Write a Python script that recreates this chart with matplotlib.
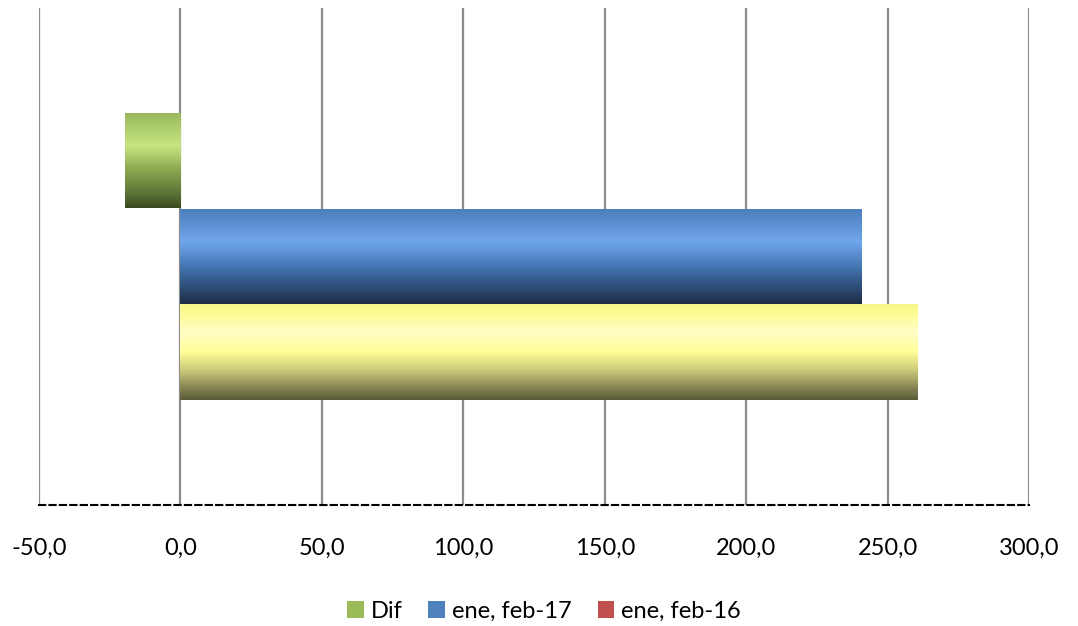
import numpy as np
import matplotlib
matplotlib.use("Agg")
import matplotlib.pyplot as plt
from matplotlib.colors import LinearSegmentedColormap
from matplotlib.patches import Rectangle, Patch

plt.rcParams['font.family'] = ['Lato', 'DejaVu Sans']

# data
series = ['Dif', 'ene, feb-17', 'ene, feb-16']
values = [-19.5, 240.8, 260.7]
legend_colors = ['#9bbb59', '#4f81bd', '#c0504d']
xticks = [-50, 0, 50, 100, 150, 200, 250, 300]

# gradient stops (top -> bottom) for each bar
gradients = [
    [(0.0, '#97b75a'), (0.35, '#c6e581'), (0.6, '#8ba851'), (0.85, '#5c7336'), (1.0, '#3a4920')],
    [(0.0, '#4a7dba'), (0.35, '#70a6ec'), (0.6, '#4678b5'), (0.85, '#2b4971'), (1.0, '#1d2c45')],
    [(0.0, '#f7f488'), (0.12, '#fefb98'), (0.3, '#fffdc6'), (0.5, '#ffff99'), (0.7, '#c9c878'),
     (0.85, '#8e8d58'), (1.0, '#5a5a3a')],
]

fig = plt.figure(figsize=(10.78, 6.26), dpi=100)
ax = fig.add_axes([39/1078, (626-505)/626, 990/1078, 497/626])

ax.set_xlim(-50, 300)
ax.set_ylim(0, 1)
bar_h = 96/497
y_center = 0.5
# top to bottom: Dif, feb-17, feb-16
offsets = [1, 0, -1]

grad = np.linspace(0, 1, 256).reshape(-1, 1)
for v, off, stops in zip(values, offsets, gradients):
    yc = y_center + off*bar_h
    y0, y1 = yc - bar_h/2, yc + bar_h/2
    x0, x1 = min(0, v), max(0, v)
    cmap = LinearSegmentedColormap.from_list('g', stops)
    im = ax.imshow(grad, cmap=cmap, aspect='auto', extent=(x0, x1, y0, y1),
                   origin='upper', zorder=3, interpolation='bilinear')
    rect = Rectangle((x0, y0), x1-x0, y1-y0, facecolor='none', edgecolor='none', zorder=3)
    ax.add_patch(rect)
    im.set_clip_path(rect)

ax.set_xticks(xticks)
ax.set_xticklabels([f'{t:.1f}'.replace('.', ',') for t in xticks], fontsize=17)
ax.set_yticks([])
ax.grid(axis='x', color='#8c8c8c', linewidth=1.6, zorder=1)
ax.tick_params(axis='x', length=0, pad=24)
for s in ['top', 'left', 'right']:
    ax.spines[s].set_visible(False)
ax.spines['bottom'].set_linestyle((0, (3, 2)))
ax.spines['bottom'].set_linewidth(1.5)
ax.spines['bottom'].set_color('black')

handles = [Patch(facecolor=c, edgecolor='none') for c in legend_colors]
fig.legend(handles, series, loc='center', bbox_to_anchor=(544/1078, 1 - 611/626),
           ncol=3, frameon=False, fontsize=17, handlelength=0.7, handleheight=0.7,
           handletextpad=0.3, columnspacing=1.1)

fig.savefig('out.png', dpi=100)
